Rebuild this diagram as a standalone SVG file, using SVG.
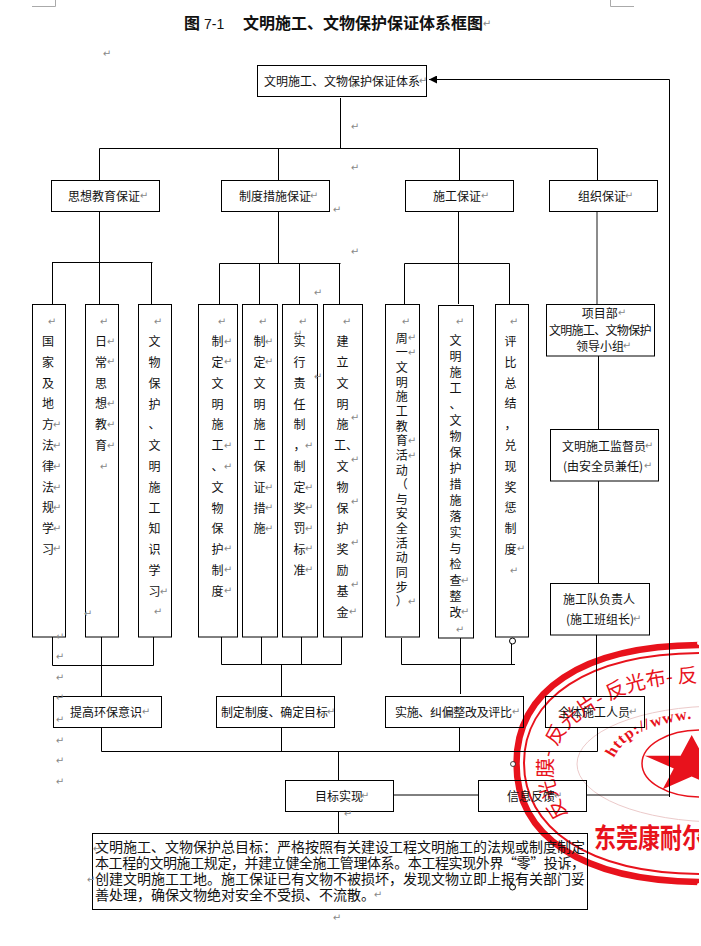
<svg xmlns="http://www.w3.org/2000/svg" width="701" height="946" viewBox="0 0 701 946">
<style>
text{font-family:"Noto Sans CJK SC","Liberation Sans",sans-serif;font-size:12px;fill:#111}
.box{fill:none;stroke:#000;stroke-width:1}
.ln{fill:none;stroke:#000;stroke-width:1}
.v{text-anchor:middle}
.c{text-anchor:middle}
.p{font-size:14px}
.t{font-size:16px;font-weight:700}
.r{font-family:"DejaVu Sans",sans-serif;font-size:10px;fill:#888;text-anchor:middle}
.s{fill:#e8121c}
.sl{fill:none;stroke:#e8121c}
</style>
<defs>
<marker id="ah" markerUnits="userSpaceOnUse" markerWidth="9" markerHeight="8" refX="8" refY="4" orient="auto"><path d="M0 0L8 4L0 8Z" fill="#000"/></marker>
<clipPath id="sc"><rect x="480" y="630" width="219" height="270"/></clipPath>
</defs>
<rect width="701" height="946" fill="#fff"/>
<g id="stamp" clip-path="url(#sc)">
<path class="sl" stroke-width="6.5" d="M703 645C580 645 516.5 692 516.5 763.5C516.5 835 580 882 703 882"/>
<path class="sl" stroke-width="2" d="M703 653C585 653 524 700 524 763C524 826 585 874 703 874"/>
<ellipse cx="720" cy="764" rx="143" ry="58" fill="none" stroke="#eccaca"/>
<ellipse cx="700" cy="763.5" rx="58" ry="33.5" class="sl" stroke-width="1.5"/>
<polygon class="s" points="691.7,735 702.8,755.7 738.7,755.7 709.6,768.5 720.7,789.3 691.7,776.5 662.7,789.3 673.8,768.5 644.7,755.7 680.6,755.7"/>
<path id="sp1" fill="none" d="M568 815C540 770 552 735 590 712C620 692 655 680 715 683"/>
<path id="sp2" fill="none" d="M614 758C625 735 650 722 715 716"/>
<text style="font-size:20px;fill:#e8121c"><textPath href="#sp1">反光膜- 反光片- 反光布- 反</textPath></text>
<text style="font-family:'Liberation Serif',serif;font-size:16px;font-weight:700;fill:#e8121c;letter-spacing:1px"><textPath href="#sp2">http://www.</textPath></text>
<text transform="translate(594 848) scale(1 1.25)" style="font-size:22px;font-weight:700;fill:#e8121c">东莞康耐尔</text>
<circle cx="699" cy="643" r="2" fill="#fff"/>
<circle cx="699" cy="885" r="2" fill="#fff"/>
</g>
<g id="crop-marks" fill="none" stroke="#aaa"><path d="M32 6.5H55.5V0"/><path d="M634 6.5H610.5V0"/></g>
<text id="title" class="t" y="29" x="184">图<tspan style="font-weight:400;font-size:14px;font-family:'Liberation Sans',sans-serif" x="204" y="29">7-1</tspan><tspan x="243" y="29">文明施工、文物保护保证体系框图</tspan></text>
<g id="connectors">
<path class="ln" d="M340.5 98V148.5M99.5 180V148.5H597.5V180M278.5 148.5V180M459.5 148.5V180"/>
<path class="ln" d="M99.5 211V304M52 262.5H152.5M52.5 262.5V304M151.5 262.5V304"/>
<path class="ln" d="M278.5 211V263.5M219.5 304V263.5H340.5M259.5 263.5V304M299.5 263.5V304M339.5 263.5V304"/>
<path class="ln" d="M458.5 211V304M404.5 304V263.5H509.5V304"/>
<path fill="none" stroke="#666" stroke-width="1.5" d="M597 211V304"/>
<path class="ln" d="M598.5 356V429M598.5 481V583M596.5 635V696"/>
<path class="ln" d="M52.5 637V665.5H153.5V637M101.5 637V696"/>
<path class="ln" d="M221.5 637V664.5H341.5V637M261.5 637V664.5M301.5 637V664.5M281.5 664.5V696"/>
<path class="ln" d="M401.5 638V664.5H515M460.5 638V694M511.5 644V664.5"/>
<circle cx="512.5" cy="641" r="3" fill="#fff" stroke="#000"/>
<path class="ln" d="M101.5 727V751.5H597.5V727M281.5 727V751.5M459.5 727V751.5M338.5 751.5V780M338.5 812V833"/>
<path class="ln" d="M393 795H478M586 795H669.5"/>
<path class="ln" d="M669.5 797V79.5H429" marker-end="url(#ah)"/>
</g>
<g id="n-top"><rect class="box" x="257.5" y="65.5" width="169" height="31"/><text x="264" y="85.5">文明施工、文物保护保证体系</text></g>
<g id="n-thought"><rect class="box" x="51.5" y="180.5" width="108" height="31"/><text class="c" x="104" y="200.5">思想教育保证</text></g>
<g id="n-system"><rect class="box" x="221.5" y="180.5" width="108" height="31"/><text class="c" x="275" y="200.5">制度措施保证</text></g>
<g id="n-construction"><rect class="box" x="405.5" y="180.5" width="108" height="31"/><text class="c" x="457" y="200.5">施工保证</text></g>
<g id="n-organization"><rect class="box" x="549.5" y="180.5" width="108" height="31"/><text class="c" x="602" y="200.5">组织保证</text></g>
<g id="n-c1"><rect class="box" x="32.5" y="304.5" width="33" height="332.5"/><text class="v" x="48 48 48 48 48 48 48 48 48 48 48" y="346 367 388 408 429 450 471 492 512 533 554">国家及地方法律法规学习</text></g>
<g id="n-c2"><rect class="box" x="85.5" y="304.5" width="33" height="332.5"/><text class="v" x="101 101 101 101 101 101" y="346 367 388 408 429 450">日常思想教育</text></g>
<g id="n-c3"><rect class="box" x="138.5" y="304.5" width="33" height="332.5"/><text class="v" x="154.5 154.5 154.5 154.5 154.5 154.5 154.5 154.5 154.5 154.5 154.5 154.5 154.5" y="346 367 388 408.5 429 450 471 492 513 533 554 575 596">文物保护、文明施工知识学习</text></g>
<g id="n-c4"><rect class="box" x="198.5" y="304.5" width="39" height="332.5"/><text class="v" x="217.5 217.5 217.5 217.5 217.5 217.5 217.5 217.5 217.5 217.5 217.5 217.5 217.5" y="346 367 388 408.5 429 450 471 492 513 533 554 575 596">制定文明施工、文物保护制度</text></g>
<g id="n-c5"><rect class="box" x="242.5" y="304.5" width="35" height="332.5"/><text class="v" x="259.5 259.5 259.5 259.5 259.5 259.5 259.5 259.5 259.5 259.5" y="346 367 388 408.5 429 450 471 492 513 533">制定文明施工保证措施</text></g>
<g id="n-c6"><rect class="box" x="282.5" y="304.5" width="35" height="332.5"/><text class="v" x="299.5 299.5 299.5 299.5 299.5 299.5 299.5 299.5 299.5 299.5 299.5 299.5" y="346 367 388 408.5 429 450 471 492 513 533 554 575">实行责任制，制定奖罚标准</text></g>
<g id="n-c7"><rect class="box" x="323.5" y="304.5" width="39" height="332.5"/><text class="v" x="342.5 342.5 342.5 342.5 342.5 340 352 342.5 342.5 342.5 342.5 342.5 342.5 342.5 342.5" y="346 367 388 408.5 429 450 450 471 492 513 533 554 575 596 617">建立文明施工、文物保护奖励基金</text></g>
<g id="n-c8"><rect class="box" x="385.5" y="304.5" width="34" height="332.5"/><text class="v" x="401.7 401.7 401.7 401.7 401.7 401.7 401.7 401.7 401.7 401.7 401.7 401.7 401.7 401.7 401.7 401.7 401.7 401.7 401.7" y="342.8 357.4 372.1 386.7 401.3 416 430.6 445.2 459.9 474.5 489.1 503.8 518.4 533 547.7 562.3 576.9 591.6 606.2">周一文明施工教育活动（与安全活动同步）</text></g>
<g id="n-c9"><rect class="box" x="438.5" y="305.5" width="35" height="332.5"/><text class="v" x="455.5 455.5 455.5 455.5 455.5 455.5 455.5 455.5 455.5 455.5 455.5 455.5 455.5 455.5 455.5 455.5 455.5 455.5" y="345 361 377 393 409 425 441 457 473 489 505 521 537 553 569 585 601 617">文明施工、文物保护措施落实与检查整改</text></g>
<g id="n-c10"><rect class="box" x="495.5" y="304.5" width="33" height="332.5"/><text class="v" x="510.5 510.5 510.5 510.5 510.5 510.5 510.5 510.5 510.5 510.5 510.5" y="346 367 388 408 429 450 471 492 512 533 554">评比总结，兑现奖惩制度</text></g>
<g id="n-leader"><rect class="box" x="546.5" y="304.5" width="108" height="51.5"/><text x="581.7" y="317.5">项目部</text><text x="549" y="334.5" textLength="102.5">文明施工、文物保护</text><text x="576" y="350.5">领导小组</text></g>
<g id="n-supervisor"><rect class="box" x="550.5" y="429.5" width="108" height="51.5"/><text x="562" y="450.5">文明施工监督员</text><text x="563" y="470.5">(由安全员兼任)</text></g>
<g id="n-team"><rect class="box" x="550.5" y="583.5" width="99" height="51.5"/><text x="563" y="603.5">施工队负责人</text><text x="566" y="623.5">(施工班组长)</text></g>
<g id="n-awareness"><rect class="box" x="53.5" y="696.5" width="108" height="31"/><text x="70" y="716.5">提高环保意识</text></g>
<g id="n-goals"><rect class="box" x="216.5" y="696.5" width="118" height="31"/><text x="221" y="716.5" textLength="107">制定制度、确定目标</text></g>
<g id="n-implement"><rect class="box" x="385.5" y="696.5" width="138" height="31"/><text x="395" y="716.5" textLength="117">实施、纠偏整改及评比</text></g>
<g id="n-staff"><rect class="box" x="545.5" y="696.5" width="99" height="31"/><text x="558" y="716.5">全体施工人员</text></g>
<g id="n-target"><rect class="box" x="285.5" y="780.5" width="108" height="31"/><text x="315" y="800.5">目标实现</text></g>
<g id="n-feedback"><rect class="box" x="478.5" y="780.5" width="108" height="31"/><text x="507" y="800.5">信息反馈</text></g>
<g id="n-goal-text"><rect class="box" x="92.5" y="833.5" width="495" height="76"/>
<text class="p" x="95" y="852" textLength="490">文明施工、文物保护总目标：严格按照有关建设工程文明施工的法规或制度制定</text>
<text class="p" x="95" y="868" textLength="490">本工程的文明施工规定，并建立健全施工管理体系。本工程实现外界“零”投诉，</text>
<text class="p" x="95" y="884" textLength="490">创建文明施工工地。施工保证已有文物不被损坏，发现文物立即上报有关部门妥</text>
<text class="p" x="95" y="900" textLength="280">善处理，确保文物绝对安全不受损、不流散。</text>
<circle cx="512.5" cy="887" r="3" fill="none" stroke="#000"/></g>
<circle cx="513" cy="764" r="2.5" fill="#fff" stroke="#000" stroke-width=".7"/>
<g id="paragraph-marks">
<text class="r" x="107 144 314 337 318 487 423 355 355 355 355 485 629" y="57 199 199 213 296 27 84 89 130 171 255 199 199">↵↵↵↵↵↵↵↵↵↵↵↵↵</text>
<text class="r" x="52 104 158 222 263 303 347 298 318 406 460 514" y="325 325 325 325 325 325 325 337 380 325 325 325">↵↵↵↵↵↵↵↵↵↵↵↵</text>
<text class="r" x="57 57 57 57 57 57 57 111 111 111 111 111 104 88 60 164 158" y="428 449 470 491 511 532 552 345 365 407 428 449 470 617 640 595 615">↵↵↵↵↵↵↵↵↵↵↵↵↵↵↵↵↵</text>
<text class="r" x="228 228 228 228 228 228 228 269 269 269 269 269 309 309 309 309 309 309" y="345 365 449 470 552 573 594 345 365 491 511 532 449 491 511 532 552 573">↵↵↵↵↵↵↵↵↵↵↵↵↵↵↵↵↵↵</text>
<text class="r" x="412 412 412 412 412 465 465 460 521 514 355 355 355 355 355 353" y="341 356 444 459 605 584 615 633 552 574 421 463 505 546 588 615">↵↵↵↵↵↵↵↵↵↵↵↵↵↵↵↵</text>
<text class="r" x="622 627 649 648 637 60 60 60 60 60 60 60" y="316 349 449 469 622 660 681 701 723 744 764 785">↵↵↵↵↵↵↵↵↵↵↵↵</text>
<text class="r" x="146 331 516 633 365 348 558 97 91 378 337" y="715 715 715 715 799 817 799 852 883 898 921">↵↵↵↵↵↵↵↵↵↵↵</text>
</g>
</svg>
